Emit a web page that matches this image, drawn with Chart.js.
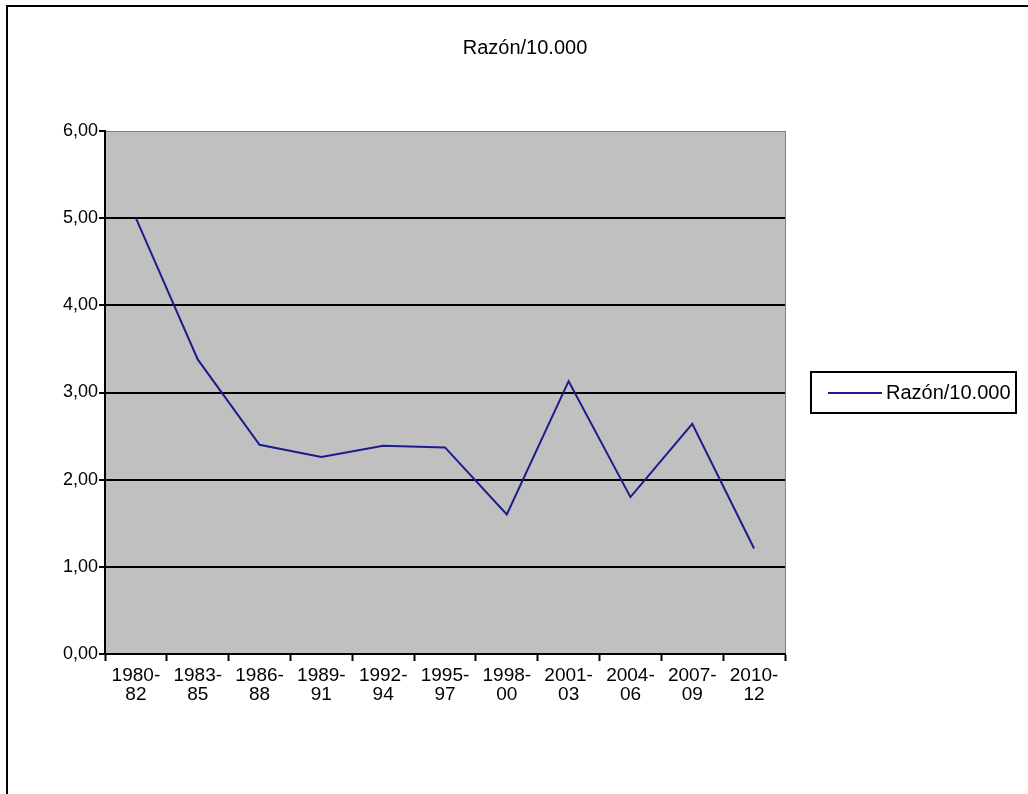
<!DOCTYPE html>
<html>
<head>
<meta charset="utf-8">
<script src="https://cdn.jsdelivr.net/npm/chart.js@4.4.1/dist/chart.umd.min.js"></script>
<style>
  html, body { margin: 0; padding: 0; background: #fff; }
  #wrap { width: 1028px; height: 794px; }
</style>
</head>
<body>
<div id="wrap"><canvas id="myChart" width="1028" height="794"></canvas></div>
<script>
// Datos del gráfico
var periodos = [
  ['1980-', '82'], ['1983-', '85'], ['1986-', '88'], ['1989-', '91'],
  ['1992-', '94'], ['1995-', '97'], ['1998-', '00'], ['2001-', '03'],
  ['2004-', '06'], ['2007-', '09'], ['2010-', '12']
];
var razon = [5.00, 3.38, 2.40, 2.26, 2.39, 2.37, 1.60, 3.13, 1.80, 2.64, 1.21];
var serieNombre = 'Razón/10.000';
var tituloTexto = 'Razón/10.000';

var fuente = 'Arial, "Liberation Sans", sans-serif';

// Fondo gris del área, marco exterior, título y leyenda
var marcoExcel = {
  id: 'marcoExcel',
  beforeDraw: function (chart) {
    var c = chart.ctx, a = chart.chartArea;
    c.save();
    c.fillStyle = '#c0c0c0';
    c.fillRect(a.left, a.top, a.right - a.left, a.bottom - a.top);
    c.strokeStyle = '#808080';
    c.lineWidth = 1;
    c.strokeRect(a.left + 0.5, a.top + 0.5, a.right - a.left, a.bottom - a.top);
    c.restore();
  },
  afterDraw: function (chart) {
    var c = chart.ctx;
    c.save();
    // marco exterior
    c.strokeStyle = '#000';
    c.lineWidth = 2;
    c.strokeRect(7, 6, 1100, 1000);
    // título
    c.fillStyle = '#000';
    c.font = '20px ' + fuente;
    c.textAlign = 'center';
    c.textBaseline = 'middle';
    c.fillText(tituloTexto, 525, 48);
    // leyenda
    c.strokeStyle = '#000';
    c.lineWidth = 2;
    c.strokeRect(811, 372, 205, 41);
    var ds = chart.data.datasets[0];
    c.strokeStyle = ds.borderColor;
    c.lineWidth = 2;
    c.beginPath();
    c.moveTo(828, 393);
    c.lineTo(882, 393);
    c.stroke();
    c.textAlign = 'left';
    c.fillText(ds.label, 886, 393);
    c.restore();
  }
};

var ctx = document.getElementById('myChart').getContext('2d');

var myChart = new Chart(ctx, {
  type: 'line',
  data: {
    labels: periodos,
    datasets: [{
      label: serieNombre,
      data: razon,
      borderColor: '#1c1c8c',
      borderWidth: 2,
      pointRadius: 0,
      tension: 0,
      fill: false
    }]
  },
  options: {
    responsive: false,
    animation: false,
    layout: { padding: { left: 0, top: 131, right: 243, bottom: 0 } },
    plugins: {
      legend: { display: false },
      title: { display: false },
      tooltip: { enabled: false }
    },
    scales: {
      x: {
        offset: true,
        grid: {
          offset: true,
          drawOnChartArea: false,
          drawTicks: true,
          tickLength: 7,
          tickColor: '#000',
          tickWidth: 2
        },
        border: { display: true, color: '#000', width: 2 },
        ticks: {
          color: '#000',
          font: { family: fuente, size: 19, lineHeight: 1.0 },
          padding: 5,
          maxRotation: 0,
          autoSkip: false
        },
        afterFit: function (scale) { scale.height = 140; }
      },
      y: {
        min: 0,
        max: 6,
        ticks: {
          stepSize: 1,
          color: '#000',
          font: { family: fuente, size: 18 },
          padding: 1,
          callback: function (v) { return v.toFixed(2).replace('.', ','); }
        },
        grid: {
          color: function (c) { return (c.tick && c.tick.value > 0 && c.tick.value < 6) ? '#000' : 'rgba(0,0,0,0)'; },
          lineWidth: 2,
          tickColor: '#000',
          tickLength: 6,
          tickWidth: 2
        },
        border: { display: true, color: '#000', width: 2 },
        afterFit: function (scale) { scale.width = 105; }
      }
    }
  },
  plugins: [marcoExcel]
});
</script>
</body>
</html>
